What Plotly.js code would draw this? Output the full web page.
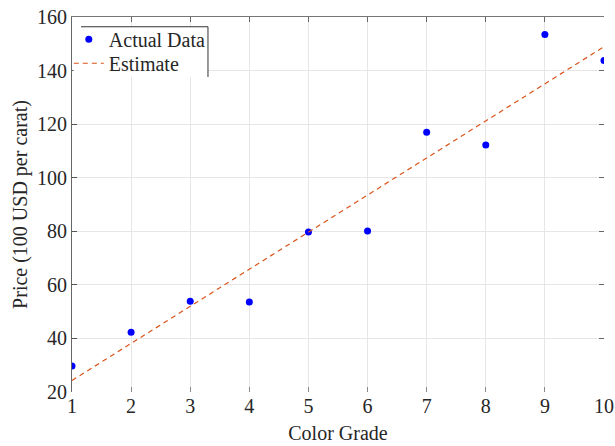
<!DOCTYPE html>
<html>
<head>
<meta charset="utf-8">
<script src="https://cdn.plot.ly/plotly-3.0.1.min.js"></script>
<style>html,body{margin:0;padding:0;background:#fff;}#chart{width:615px;height:446px;}</style>
</head>
<body>
<div id="chart"></div>
<script>
const colorGrade = [1, 2, 3, 4, 5, 6, 7, 8, 9, 10];
const price = [29.7, 42.3, 53.9, 53.6, 79.7, 80.1, 117.0, 112.2, 153.5, 143.8];
const estimateX = [1, 10];
const estimateY = [24.3, 148.9];
const yTicks = [20, 40, 60, 80, 100, 120, 140, 160];

const fontFam = '"Liberation Serif", "Times New Roman", serif';
const txtColor = '#262626';
const fs = 20;

const traces = [
  {
    x: colorGrade, y: price, type: 'scatter', mode: 'markers', name: 'Actual Data',
    marker: {color: '#0000ff', size: 7}, legend: 'legend'
  },
  {
    x: estimateX, y: estimateY, type: 'scatter', mode: 'lines', name: 'Estimate',
    line: {color: '#D95319', width: 1.2, dash: '5px,4px'}, legend: 'legend2'
  },
  {
    x: [], y: [], type: 'scatter', mode: 'markers', xaxis: 'x2', yaxis: 'y2', showlegend: false, hoverinfo: 'skip'
  }
];

const legendBase = {
  xanchor: 'left', yanchor: 'top',
  bgcolor: 'rgba(255,255,255,0)', borderwidth: 0,
  font: {family: fontFam, size: fs, color: txtColor},
  itemwidth: 30
};

const layout = {
  width: 615, height: 446,
  margin: {l: 72, r: 11, t: 17, b: 54},
  paper_bgcolor: '#ffffff', plot_bgcolor: '#ffffff',
  font: {family: fontFam, size: fs, color: txtColor},
  showlegend: true,
  legend: Object.assign({}, legendBase, {x: -0.006, y: 0.9927}),
  legend2: Object.assign({}, legendBase, {x: -0.006, y: 0.9287}),
  xaxis: {
    range: [1, 10], tickmode: 'array', tickvals: colorGrade, ticktext: colorGrade.map(String),
    ticks: 'inside', ticklen: 5, tickcolor: '#888', showline: false,
    showgrid: true, gridcolor: '#e6e6e6', gridwidth: 1, zeroline: false,
    tickfont: {family: fontFam, size: fs, color: txtColor},
    title: {text: 'Color Grade', font: {family: fontFam, size: fs, color: txtColor}, standoff: 9},
    fixedrange: true
  },
  yaxis: {
    range: [20, 160], tickmode: 'array', tickvals: yTicks, ticktext: yTicks.map(String),
    ticks: 'inside', ticklen: 5, tickcolor: '#555', showline: true, linecolor: '#666', linewidth: 1,
    showgrid: true, gridcolor: '#e6e6e6', gridwidth: 1, zeroline: false,
    tickfont: {family: fontFam, size: fs, color: txtColor},
    title: {text: 'Price (100 USD per carat)', font: {family: fontFam, size: fs, color: txtColor}, standoff: 4},
    fixedrange: true
  },
  xaxis2: {
    overlaying: 'x', side: 'top', anchor: 'y', range: [1, 10], tickmode: 'array', tickvals: colorGrade,
    ticks: 'inside', ticklen: 5, tickcolor: '#666', showline: true, linecolor: '#777', linewidth: 1,
    showticklabels: false, showgrid: false, zeroline: false, fixedrange: true
  },
  yaxis2: {
    overlaying: 'y', side: 'right', anchor: 'x', range: [20, 160], tickmode: 'array', tickvals: yTicks,
    ticks: 'inside', ticklen: 5, tickcolor: '#666', showline: false,
    showticklabels: false, showgrid: false, zeroline: false, fixedrange: true
  },
  shapes: [
    {type: 'rect', xref: 'paper', yref: 'paper', x0: 0.003, x1: 0.2556, y0: 0.974, y1: 0.84, fillcolor: '#ffffff', line: {width: 0}, layer: 'above'},
    {type: 'line', xref: 'paper', yref: 'paper', x0: 0.017, x1: 0.2556, y0: 0.974, y1: 0.974, line: {color: '#333', width: 1}},
    {type: 'line', xref: 'paper', yref: 'paper', x0: 0.2556, x1: 0.2556, y0: 0.974, y1: 0.84, line: {color: '#333', width: 1}}
  ]
};

Plotly.newPlot('chart', traces, layout, {displayModeBar: false, staticPlot: true});
</script>
</body>
</html>
